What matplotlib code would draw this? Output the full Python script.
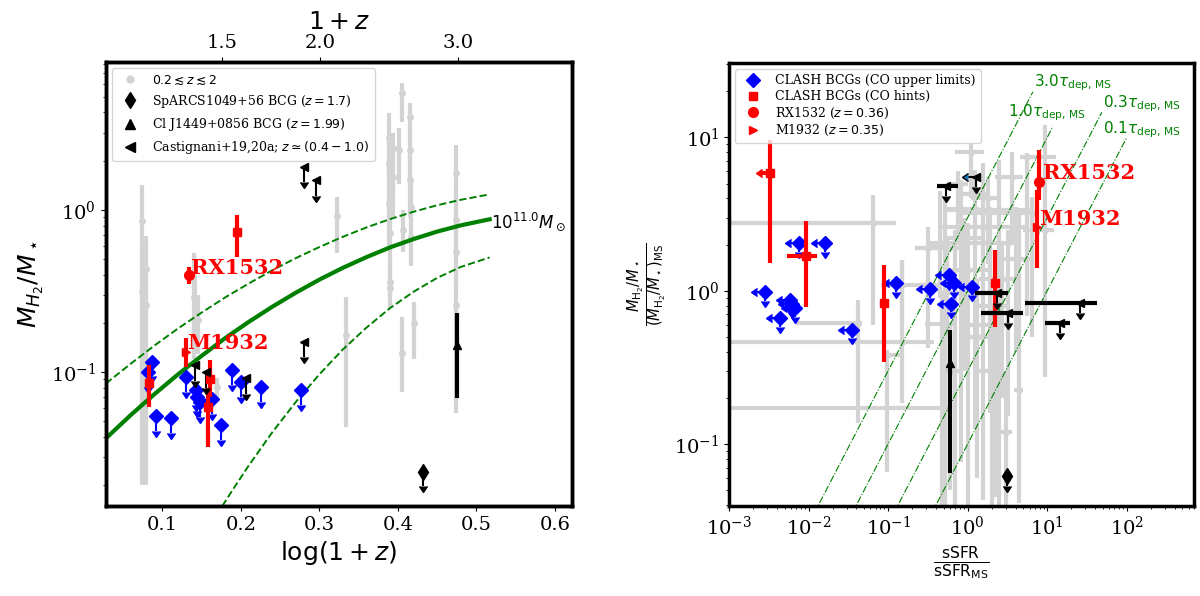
import numpy as np
import matplotlib.pyplot as plt
from matplotlib.lines import Line2D

plt.rcParams['font.family'] = 'serif'
plt.rcParams['font.serif'] = ['DejaVu Serif']
plt.rcParams['mathtext.fontset'] = 'dejavusans'

# ---------------- left panel data: log(1+z) vs M_H2/M* ----------------
# gray comparison sample 0.2 < z < 2 : x, y, y_low, y_high
gray_x = [0.0745, 0.0745, 0.079, 0.079, 0.140, 0.142, 0.145, 0.170, 0.323, 0.334,
          0.389, 0.389, 0.389, 0.390, 0.390, 0.394, 0.394, 0.401, 0.405, 0.405,
          0.407, 0.415, 0.415, 0.415, 0.417, 0.417, 0.420, 0.4745, 0.4745, 0.4745,
          0.4745, 0.390]
gray_y = [0.85, 0.31, 0.43, 0.26, 0.29, 0.26, 0.21, 0.081, 0.92, 0.17,
          2.78, 1.95, 1.10, 0.72, 0.36, 2.41, 1.60, 2.35, 5.30, 0.131,
          0.75, 3.75, 2.35, 1.53, 1.04, 0.68, 0.20, 1.69, 0.87, 0.55,
          0.26, 0.33]
gray_lo = [0.020, 0.022, 0.020, 0.022, 0.12, 0.15, 0.13, 0.065, 0.54, 0.046,
           1.60, 1.10, 0.60, 0.42, 0.29, 1.30, 0.90, 1.45, 3.50, 0.075,
           0.55, 2.50, 1.50, 0.90, 0.60, 0.45, 0.12, 0.90, 0.50, 0.30,
           0.056, 0.25]
gray_hi = [1.43, 0.60, 0.69, 0.45, 0.54, 0.40, 0.30, 0.092, 1.20, 0.29,
           3.97, 2.80, 1.90, 1.20, 0.45, 3.00, 2.20, 3.20, 6.10, 0.22,
           1.00, 4.60, 3.30, 2.30, 1.60, 1.00, 0.27, 2.52, 1.40, 0.90,
           0.45, 0.50]

# CLASH BCGs, CO upper limits
clash_ul_x = [0.0864, 0.081, 0.0915, 0.111, 0.1306, 0.1424, 0.1446, 0.148, 0.1628,
              0.174, 0.189, 0.200, 0.225, 0.276]
clash_ul_y = [0.116, 0.100, 0.0536, 0.052, 0.0935, 0.0774, 0.0706, 0.065, 0.068,
              0.047, 0.103, 0.087, 0.081, 0.077]

# CLASH BCGs, CO hints: x, y, y_low, y_high
clash_h_x = [0.1955, 0.083, 0.1605, 0.158]
clash_h_y = [0.735, 0.086, 0.091, 0.061]
clash_h_lo = [0.515, 0.061, 0.070, 0.0346]
clash_h_hi = [0.93, 0.110, 0.119, 0.080]

rx_left = (0.1335, 0.397, 0.35, 0.445)
m19_left = (0.1297, 0.133, 0.107, 0.162)

# Castignani+19,20a upper limits
cast_x = [0.2804, 0.2953, 0.2804, 0.1415, 0.155, 0.206]
cast_y = [1.85, 1.53, 0.154, 0.110, 0.100, 0.0914]

spa_left = (0.432, 0.0243)
clj_left = (0.4757, 0.147, 0.069, 0.231)

# scaling-relation track for 10^11 Msun, with its envelope
track_x = [0.028, 0.06, 0.09, 0.12, 0.15, 0.18, 0.21, 0.24, 0.27, 0.30,
           0.33, 0.36, 0.39, 0.42, 0.45, 0.48, 0.517]
track_y = [0.039, 0.0545, 0.0732, 0.0969, 0.126, 0.162, 0.204, 0.253, 0.309, 0.372,
           0.440, 0.512, 0.588, 0.662, 0.736, 0.804, 0.877]
upper_x = track_x
upper_y = [0.085, 0.113, 0.146, 0.186, 0.233, 0.289, 0.352, 0.425, 0.505, 0.591,
           0.684, 0.781, 0.879, 0.976, 1.070, 1.156, 1.250]
lower_x = [0.1763, 0.19, 0.21, 0.24, 0.27, 0.30, 0.33, 0.36, 0.39, 0.42,
           0.45, 0.48, 0.517]
lower_y = [0.0149, 0.0189, 0.0265, 0.0425, 0.0654, 0.0968, 0.138, 0.188, 0.248, 0.313,
           0.381, 0.445, 0.510]

top_ticks = [1.5, 2.0, 3.0]

# ---------------- right panel data: sSFR/sSFR_MS vs mu/mu_MS ----------------
# gray sample: x, y, x_low, x_high, y_low, y_high
rg_x = [0.065, 0.042, 0.149, 0.52, 0.0964, 0.149, 0.313, 0.69, 0.83, 1.0,
        1.23, 1.56, 1.89, 2.5, 3.2, 4.37, 5.55, 6.43, 9.4, 0.55,
        0.47, 2.0, 3.0, 1.3, 0.75, 3.6, 2.7, 0.6, 0.45, 1.1,
        2.2, 0.9, 4.0, 1.8]
rg_y = [2.78, 0.62, 0.46, 0.171, 0.38, 1.09, 1.89, 0.97, 3.4, 1.37,
        4.3, 2.62, 0.80, 3.36, 2.05, 0.226, 7.48, 3.2, 2.5, 1.89,
        0.61, 0.30, 0.12, 0.50, 5.0, 5.5, 1.2, 0.30, 2.0, 8.0,
        0.60, 2.2, 1.6, 4.0]
rg_xlo = [0.00106, 0.0070, 0.00106, 0.00106, 0.09, 0.082, 0.22, 0.45, 0.52, 0.60,
          0.87, 0.44, 1.2, 0.54, 0.33, 3.8, 4.5, 0.8, 5.0, 0.22,
          0.29, 1.3, 2.4, 0.9, 0.55, 2.2, 1.4, 0.45, 0.30, 0.70,
          1.0, 0.50, 2.5, 1.1]
rg_xhi = [0.127, 0.047, 0.38, 0.55, 0.145, 0.47, 0.85, 1.1, 1.37, 1.8,
          1.7, 5.55, 3.0, 6.1, 4.5, 5.0, 13.0, 6.6, 12.0, 0.85,
          0.70, 2.8, 3.6, 1.8, 1.0, 5.0, 4.0, 0.80, 0.60, 1.6,
          3.5, 1.5, 6.0, 2.6]
rg_ylo = [0.60, 0.137, 0.186, 0.04, 0.066, 0.60, 0.42, 0.04, 0.076, 0.04,
          0.125, 0.043, 0.16, 0.04, 0.152, 0.041, 0.68, 0.50, 0.275, 0.50,
          0.04, 0.04, 0.04, 0.06, 2.0, 2.0, 0.20, 0.05, 0.90, 4.0,
          0.045, 0.30, 0.40, 1.5]
rg_yhi = [4.2, 0.87, 1.59, 4.0, 0.41, 1.59, 2.62, 2.5, 5.3, 2.76,
          6.1, 6.8, 3.54, 7.1, 2.5, 3.2, 7.9, 4.1, 12.0, 2.2,
          1.0, 0.8, 0.3, 1.2, 6.0, 8.0, 2.0, 0.6, 4.5, 9.0,
          1.3, 3.0, 3.5, 5.5]

# CLASH upper limits (both axes)
rb_x = [0.00282, 0.00435, 0.00582, 0.00673, 0.0062, 0.0075, 0.0159, 0.0348,
        0.1265, 0.333, 0.578, 0.668, 0.617, 1.135]
rb_y = [0.977, 0.662, 0.871, 0.769, 0.82, 2.04, 2.04, 0.556,
        1.12, 1.02, 1.26, 1.12, 0.82, 1.06]

# CLASH hints: x, y, x_low, x_high, y_low, y_high, x upper limit flag
rh_x = [0.00326, 0.00916, 0.0893, 2.2]
rh_y = [5.88, 1.69, 0.837, 1.12]
rh_xlo = [0.0026, 0.0053, 0.0893, 2.2]
rh_xhi = [0.00326, 0.0129, 0.0893, 2.2]
rh_ylo = [1.51, 0.787, 0.345, 0.58]
rh_yhi = [9.6, 2.86, 1.47, 1.84]
rh_xul = [True, False, False, False]

rx_right = (7.95, 5.14, 3.9, 8.26)
m19_right = (7.36, 2.62, 1.40, 4.54)

# Castignani+19,20a: x, y, x_low, x_high, x upper limit flag
rc_x = [0.54, 1.29, 2.31, 3.24, 25.9, 14.5]
rc_y = [4.85, 5.54, 0.963, 0.72, 0.83, 0.62]
rc_xlo = [0.41, 1.0, 1.23, 1.49, 5.2, 9.4]
rc_xhi = [0.75, 1.29, 3.24, 5.0, 42.8, 19.2]
rc_xul = [False, True, False, False, False, False]

clj_right = (0.607, 0.337, 0.0647, 0.556)
spa_right = (3.08, 0.0615)

tau_fac = [3.0, 1.0, 0.3, 0.1]
tau_xend = [6.6, 11.8, 48.6, 100.0]
tau_lab_x = [6.8, 3.2, 50.6, 50.6]
tau_lab_y = [22.6, 14.4, 16.7, 11.2]

ARROW = 0.19   # length of limit arrows as a fraction of the value


def asym(v, lo, hi):
    v = np.asarray(v, float)
    return [v - np.asarray(lo, float), np.asarray(hi, float) - v]


fig = plt.figure(figsize=(12, 5.96), dpi=100)
ax = fig.add_axes([0.0883, 0.151, 0.3884, 0.745])
axr = fig.add_axes([0.6075, 0.151, 0.3875, 0.743])

# ---------------- left ----------------
ax.errorbar(gray_x, gray_y, yerr=asym(gray_y, gray_lo, gray_hi),
            fmt='o', color='lightgray', ms=4, elinewidth=3, zorder=1)

ax.plot(track_x, track_y, color='green', lw=3, zorder=2)
ax.plot(upper_x, upper_y, color='green', lw=1.4, ls='--', zorder=2)
ax.plot(lower_x, lower_y, color='green', lw=1.4, ls='--', zorder=2)
ax.text(0.519, 0.847, r'$10^{11.0}M_\odot$', fontsize=12, va='center', ha='left')

by = np.array(clash_ul_y)
ax.errorbar(clash_ul_x, by, yerr=ARROW * by, uplims=True, fmt='D', color='blue',
            ms=7, elinewidth=1.5, zorder=4)

ax.errorbar(clash_h_x, clash_h_y, yerr=asym(clash_h_y, clash_h_lo, clash_h_hi),
            fmt='s', color='red', ms=6, elinewidth=3, zorder=5)
ax.errorbar([rx_left[0]], [rx_left[1]], yerr=asym([rx_left[1]], [rx_left[2]], [rx_left[3]]),
            fmt='o', color='red', ms=7, elinewidth=3, zorder=5)
ax.errorbar([m19_left[0]], [m19_left[1]], yerr=asym([m19_left[1]], [m19_left[2]], [m19_left[3]]),
            fmt='>', color='red', ms=6, elinewidth=3, zorder=5)

cy = np.array(cast_y)
ax.errorbar(cast_x, cy, yerr=0.2 * cy, uplims=True, fmt='<', color='k', ms=6,
            elinewidth=1.5, zorder=5)
ax.errorbar(spa_left[0], spa_left[1], yerr=ARROW * spa_left[1], uplims=True, fmt='d',
            color='k', ms=8, elinewidth=1.5, zorder=5)
ax.errorbar([clj_left[0]], [clj_left[1]], yerr=asym([clj_left[1]], [clj_left[2]], [clj_left[3]]),
            fmt='^', color='k', ms=6, elinewidth=3, zorder=5)

ax.text(0.136, 0.438, 'RX1532', color='red', fontsize=15, fontweight='bold', va='center', zorder=6)
ax.text(0.132, 0.151, 'M1932', color='red', fontsize=15, fontweight='bold', va='center', zorder=6)

ax.set_yscale('log')
ax.set_xlim(0.028, 0.622)
ax.set_ylim(0.0149, 8.2)
ax.set_xlabel(r'$\log(1+z)$', fontsize=18)
ax.set_ylabel(r'$M_{H_2}/M_\star$', fontsize=18)
ax.tick_params(labelsize=14)

axt = ax.twiny()
axt.set_xlim(ax.get_xlim())
axt.set_xticks(np.log10(top_ticks))
axt.set_xticklabels(['%.1f' % t for t in top_ticks])
axt.tick_params(labelsize=14)
axt.set_xlabel(r'$1+z$', fontsize=18)

lh = [Line2D([], [], ls='none', marker='o', color='lightgray', ms=5),
      Line2D([], [], ls='none', marker='d', color='k', ms=8),
      Line2D([], [], ls='none', marker='^', color='k', ms=7),
      Line2D([], [], ls='none', marker='<', color='k', ms=7)]
ax.legend(lh, [r'$0.2\lesssim z\lesssim 2$', r'SpARCS1049+56 BCG ($z=1.7$)',
               r'Cl J1449+0856 BCG ($z=1.99$)', r'Castignani+19,20a; $z\simeq(0.4-1.0)$'],
          loc='upper left', fontsize=9)

# ---------------- right ----------------
axr.errorbar(rg_x, rg_y, xerr=asym(rg_x, rg_xlo, rg_xhi), yerr=asym(rg_y, rg_ylo, rg_yhi),
             fmt='o', color='lightgray', ms=4, elinewidth=3, zorder=1)

for f, xe, lx, ly in zip(tau_fac, tau_xend, tau_lab_x, tau_lab_y):
    xs = np.array([1e-3, xe])
    axr.plot(xs, f * xs, color='green', lw=0.8, ls='-.', zorder=2)
    axr.text(lx, ly, r'$%.1f\tau_{\rm dep,\,MS}$' % f, color='green', fontsize=11,
             va='center', ha='left')

bx, byr = np.array(rb_x), np.array(rb_y)
axr.errorbar(bx, byr, xerr=0.2 * bx, yerr=0.12 * byr, xuplims=True, uplims=True,
             fmt='D', color='blue', ms=7, elinewidth=1.5, zorder=4)

axr.errorbar(rh_x, rh_y, xerr=asym(rh_x, rh_xlo, rh_xhi), yerr=asym(rh_y, rh_ylo, rh_yhi),
             xuplims=np.array(rh_xul), fmt='s', color='red', ms=6, elinewidth=3, zorder=5)
axr.errorbar([rx_right[0]], [rx_right[1]], yerr=asym([rx_right[1]], [rx_right[2]], [rx_right[3]]),
             fmt='o', color='red', ms=7, elinewidth=3, zorder=5)
axr.errorbar([m19_right[0]], [m19_right[1]], yerr=asym([m19_right[1]], [m19_right[2]], [m19_right[3]]),
             fmt='>', color='red', ms=6, elinewidth=3, zorder=5)

cx, cyr = np.array(rc_x), np.array(rc_y)
xul = np.array(rc_xul)
cxe = asym(rc_x, rc_xlo, rc_xhi)
axr.errorbar(cx[~xul], cyr[~xul], xerr=[cxe[0][~xul], cxe[1][~xul]],
             fmt='none', ecolor='k', elinewidth=3, zorder=5)
axr.errorbar(cx[xul], cyr[xul], xerr=cxe[0][xul], xuplims=True,
             fmt='none', ecolor='k', elinewidth=1.5, zorder=5)
axr.errorbar(cx, cyr, yerr=0.14 * cyr, uplims=True, fmt='<', color='k', ms=6,
             elinewidth=1.5, zorder=6)

axr.errorbar([clj_right[0]], [clj_right[1]], yerr=asym([clj_right[1]], [clj_right[2]], [clj_right[3]]),
             fmt='^', color='k', ms=6, elinewidth=3, zorder=5)
axr.errorbar(spa_right[0], spa_right[1], yerr=0.14 * spa_right[1], uplims=True, fmt='d',
             color='k', ms=8, elinewidth=1.5, zorder=5)

axr.text(8.77, 5.83, 'RX1532', color='red', fontsize=15, fontweight='bold', va='center', zorder=6)
axr.text(7.94, 2.92, 'M1932', color='red', fontsize=15, fontweight='bold', va='center', zorder=6)

axr.set_xscale('log')
axr.set_yscale('log')
axr.set_xlim(1e-3, 700)
axr.set_ylim(0.0394, 30.5)
axr.set_xlabel(r'$\frac{\rm sSFR}{\rm sSFR_{MS}}$', fontsize=16)
axr.set_ylabel(r'$\frac{M_{\rm H_2}/M_\star}{(M_{\rm H_2}/M_\star)_{\rm MS}}$', fontsize=15)
axr.tick_params(labelsize=14)

rh = [Line2D([], [], ls='none', marker='D', color='blue', ms=7),
      Line2D([], [], ls='none', marker='s', color='red', ms=6),
      Line2D([], [], ls='none', marker='o', color='red', ms=7),
      Line2D([], [], ls='none', marker='>', color='red', ms=6)]
axr.legend(rh, ['CLASH BCGs (CO upper limits)', 'CLASH BCGs (CO hints)',
                r'RX1532 ($z=0.36$)', r'M1932 ($z=0.35$)'],
           loc='upper left', fontsize=9, labelspacing=0.2)

for a in (ax, axt, axr):
    for s in a.spines.values():
        s.set_linewidth(2.5)

fig.savefig('out.png', dpi=100)
